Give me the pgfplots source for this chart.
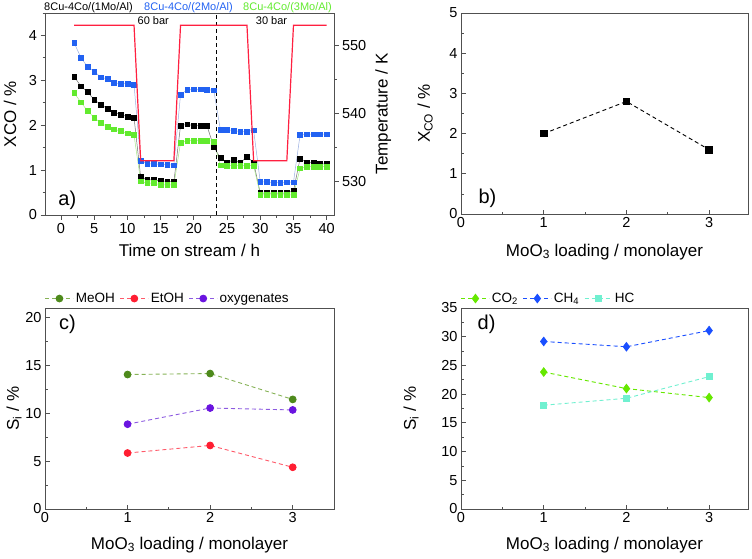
\documentclass[border=0pt]{standalone}
\usepackage{pgfplots}
\pgfplotsset{compat=1.18}
\usepackage{pgfplotstable}
\usepackage{fontspec}
\setmainfont{Liberation Sans}

\definecolor{cblue}{HTML}{2262F2}
\definecolor{cblueL}{HTML}{9AAEE0}
\definecolor{cgreen}{HTML}{62EA2E}
\definecolor{cgreenL}{HTML}{A6E888}
\definecolor{cblack}{HTML}{000000}
\definecolor{cgray}{HTML}{707070}
\definecolor{cred}{HTML}{FF2040}
\definecolor{frame}{HTML}{505050}
\definecolor{meoh}{HTML}{4E8A1C}
\definecolor{meohL}{HTML}{86B256}
\definecolor{etoh}{HTML}{FF1E32}
\definecolor{etohL}{HTML}{FF5A6A}
\definecolor{oxy}{HTML}{6A14E0}
\definecolor{oxyL}{HTML}{8C5AE0}
\definecolor{co2}{HTML}{66E800}
\definecolor{ch4}{HTML}{1A4FFF}
\definecolor{hc}{HTML}{70F0D0}

\pgfplotstableread{
t black blue green
2 3.08 3.83 2.72
3 2.87 3.51 2.51
4 2.74 3.30 2.32
5 2.57 3.20 2.17
6 2.46 3.07 2.05
7 2.37 3.03 1.97
8 2.28 2.94 1.91
9 2.24 2.93 1.87
10 2.19 2.93 1.82
11 2.17 2.90 1.78
12 0.85 1.21 0.75
13 0.78 1.14 0.71
14 0.78 1.14 0.71
15 0.76 1.13 0.67
16 0.75 1.12 0.67
17 0.74 1.11 0.67
18 1.99 2.68 1.61
19 2.02 2.79 1.66
20 1.99 2.80 1.66
21 1.99 2.80 1.66
22 1.98 2.79 1.66
23 1.52 2.78 1.64
24 1.27 1.90 1.11
25 1.17 1.90 1.10
26 1.23 1.88 1.10
27 1.16 1.86 1.10
28 1.30 1.86 1.10
29 1.17 1.89 1.10
30 0.49 0.74 0.45
31 0.49 0.74 0.45
32 0.49 0.72 0.45
33 0.49 0.72 0.45
34 0.49 0.73 0.45
35 0.54 0.73 0.45
36 1.26 1.79 1.04
37 1.17 1.80 1.08
38 1.17 1.80 1.08
39 1.14 1.80 1.08
40 1.14 1.80 1.08
}\conv

\pgfplotstableread{
t T
2 553
11 553
12 533
17 533
18 553
28 553
29 533
34 533
35 553
40 553
}\temp

\tikzset{plab/.style={anchor=west, font=\fontsize{20}{22}\selectfont, inner sep=0pt}}

\pgfplotsset{
  panel/.style={
    scale only axis, anchor=south west,
    /pgf/number format/assume math mode=true,
    ticklabel style={font=\fontsize{14.5}{16}\selectfont},
    label style={font=\fontsize{17}{19}\selectfont},
    axis line style={frame, line width=0.9pt},
    every tick/.style={frame, line width=0.8pt},
    major tick length=4.5pt, minor tick length=2.5pt,
  },
  leg/.style={
    legend style={at={(0,1)}, anchor=south west, yshift=2pt, legend columns=-1,
      draw=none, fill=none, font=\fontsize{13.5}{14}\selectfont,
      /tikz/every even column/.append style={column sep=3pt},
      inner sep=0pt, outer sep=0pt},
    legend image code/.code={\draw[mark repeat=2,mark phase=2] plot coordinates {(0pt,0pt)(14pt,0pt)(28pt,0pt)};},
  },
  dsh/.style={dash pattern=on 4pt off 3pt, line width=0.9pt},
}

\begin{document}
\begin{tikzpicture}[x=1pt,y=1pt]
\useasboundingbox (0,0) rectangle (752,558);

% ---------- panel a ----------
\begin{axis}[panel, at={(45pt,343pt)}, width=289pt, height=202pt,
  xmin=-2.4, xmax=41.1, ymin=0, ymax=4.5,
  xtick={0,5,...,40}, minor xtick={2.5,7.5,...,37.5},
  ytick={0,1,2,3,4}, minor ytick={0.5,1.5,...,4.5},
  tick align=outside, tick pos=left,
  xlabel={Time on stream / h}, ylabel={XCO / \%},
  xlabel style={at={(axis description cs:0.5,-0.173)}, anchor=center},
  ylabel style={at={(axis description cs:-0.121,0.5)}, anchor=center},
  mark size=2.4pt]
\addplot[cgray, line width=0.5pt, mark=square*, mark options={draw=cblack, fill=cblack}] table[x=t, y=black] {\conv};
\addplot[cblueL, line width=0.5pt, mark=square*, mark options={draw=cblue, fill=cblue}] table[x=t, y=blue] {\conv};
\addplot[cgreenL, line width=0.5pt, mark=square*, mark options={draw=cgreen, fill=cgreen}] table[x=t, y=green] {\conv};
\addplot[black, line width=1pt, dash pattern=on 4pt off 3pt] coordinates {(23.4,0) (23.4,4.5)};
\node[font=\fontsize{11}{12}\selectfont] at (axis cs:13.9,4.33) {60 bar};
\node[font=\fontsize{11}{12}\selectfont] at (axis cs:31.7,4.33) {30 bar};
\node[plab] at (axis cs:-0.4,0.33) {a)};
\end{axis}
\begin{axis}[panel, at={(45pt,343pt)}, width=289pt, height=202pt,
  xmin=-2.4, xmax=41.1, ymin=525, ymax=554.8,
  hide x axis, axis y line*=right,
  ytick={530,540,550}, minor ytick={535,545},
  tick align=outside,
  ylabel={Temperature / K},
  ylabel style={at={(axis description cs:1.170,0.5)}, anchor=center}]
\addplot[cred, line width=1.2pt] table[x=t, y=T] {\temp};
\end{axis}

\node[anchor=west, font=\fontsize{11}{12}\selectfont, inner sep=0pt] at (44,550) {\color{black}8Cu-4Co/(1Mo/Al)};
\node[anchor=west, font=\fontsize{11}{12}\selectfont, inner sep=0pt] at (144,550) {\color{cblue}8Cu-4Co/(2Mo/Al)};
\node[anchor=west, font=\fontsize{11}{12}\selectfont, inner sep=0pt] at (243,550) {\color{cgreen}8Cu-4Co/(3Mo/Al)};

% ---------- panel b ----------
\begin{axis}[panel, at={(461pt,344pt)}, width=287pt, height=201pt,
  xmin=0, xmax=3.47, ymin=0, ymax=5,
  xtick={0,1,2,3}, minor xtick={0.5,1.5,2.5},
  ytick={0,1,2,3,4,5}, minor ytick={0.5,1.5,...,4.5},
  tick align=inside, tick pos=left,
  xlabel={MoO\textsubscript{3} loading / monolayer}, ylabel={X\textsubscript{CO} / \%},
  xlabel style={at={(axis description cs:0.5,-0.189)}, anchor=center},
  ylabel style={at={(axis description cs:-0.125,0.5)}, anchor=center}]
\addplot[black, dsh, mark=square*, mark size=3.3pt, mark options={solid}] coordinates {(1,2.0) (2,2.8) (3,1.6)};
\node[plab] at (axis cs:0.21,0.4) {b)};
\end{axis}

% ---------- panel c ----------
\begin{axis}[panel, leg, at={(45pt,49pt)}, width=289pt, height=201pt,
  xmin=0, xmax=3.5, ymin=0, ymax=21,
  xtick={0,1,2,3}, minor xtick={0.5,1.5,2.5},
  ytick={0,5,10,15,20}, minor ytick={2.5,7.5,12.5,17.5},
  tick align=inside, tick pos=left,
  xlabel={MoO\textsubscript{3} loading / monolayer}, ylabel={S\textsubscript{i} / \%},
  xlabel style={at={(axis description cs:0.5,-0.179)}, anchor=center},
  ylabel style={at={(axis description cs:-0.107,0.5)}, anchor=center}]
\addplot[meohL, dsh, mark=*, mark size=3.4pt, mark options={solid, draw=meoh, fill=meoh}] coordinates {(1,14.05) (2,14.15) (3,11.45)};
\addlegendentry{MeOH}
\addplot[etohL, dsh, mark=*, mark size=3.4pt, mark options={solid, draw=etoh, fill=etoh}] coordinates {(1,5.85) (2,6.64) (3,4.36)};
\addlegendentry{EtOH}
\addplot[oxyL, dsh, mark=*, mark size=3.4pt, mark options={solid, draw=oxy, fill=oxy}] coordinates {(1,8.86) (2,10.55) (3,10.35)};
\addlegendentry{oxygenates}
\node[plab] at (axis cs:0.17,19.3) {c)};
\end{axis}

% ---------- panel d ----------
\begin{axis}[panel, leg, at={(461pt,49pt)}, width=287pt, height=201pt,
  xmin=0, xmax=3.47, ymin=0, ymax=35,
  xtick={0,1,2,3}, minor xtick={0.5,1.5,2.5},
  ytick={0,5,...,35}, minor ytick={2.5,7.5,...,32.5},
  tick align=inside, tick pos=left,
  xlabel={MoO\textsubscript{3} loading / monolayer}, ylabel={S\textsubscript{i} / \%},
  xlabel style={at={(axis description cs:0.5,-0.179)}, anchor=center},
  ylabel style={at={(axis description cs:-0.174,0.5)}, anchor=center}]
\addplot[co2, dsh, mark=diamond*, mark size=4.2pt, mark options={solid, draw=co2, fill=co2}] coordinates {(1,23.85) (2,20.97) (3,19.4)};
\addlegendentry{CO\textsubscript{2}}
\addplot[ch4, dsh, mark=diamond*, mark size=4.2pt, mark options={solid, draw=ch4, fill=ch4}] coordinates {(1,29.17) (2,28.25) (3,31.07)};
\addlegendentry{CH\textsubscript{4}}
\addplot[hc, dsh, mark=square*, mark size=3pt, mark options={solid, draw=hc, fill=hc}] coordinates {(1,18.07) (2,19.28) (3,23.05)};
\addlegendentry{HC}
\node[plab] at (axis cs:0.2,32.2) {d)};
\end{axis}
\end{tikzpicture}
\end{document}
